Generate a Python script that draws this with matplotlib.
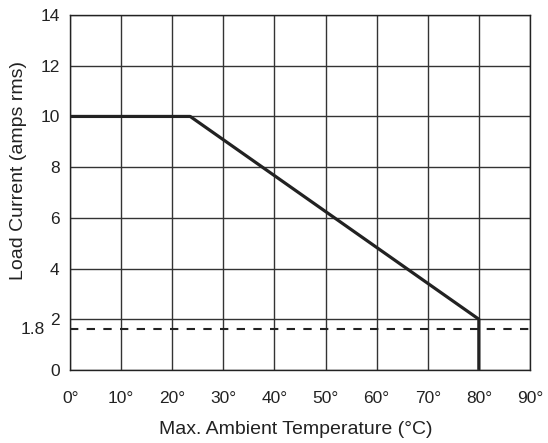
import matplotlib
matplotlib.use("Agg")
import matplotlib.pyplot as plt

# derating curve
temp = [0, 23.5, 80, 80]
current = [10, 10, 2, 0]
min_current = 1.6          # dashed line, labelled 1.8 on the original
min_label = "1.8"

x_ticks = [0, 10, 20, 30, 40, 50, 60, 70, 80, 90]
x_labels = [f"{t}°" for t in x_ticks]
y_ticks = [0, 2, 4, 6, 8, 10, 12, 14]

plt.rcParams['font.family'] = ['Liberation Sans', 'DejaVu Sans']

fig = plt.figure(figsize=(5.48, 4.43), dpi=100)
ax = fig.add_axes([0.128, 0.165, 0.839, 0.801])

ax.set_xlim(0, 90)
ax.set_ylim(0, 14)
ax.set_xticks(x_ticks)
ax.set_xticklabels(x_labels)
ax.set_yticks(y_ticks)
ax.tick_params(length=0, labelsize=12.5, colors='#222222')
ax.tick_params(axis='x', pad=15)
ax.tick_params(axis='y', pad=7.5)
ax.grid(True, color='#333333', linewidth=1.0)
ax.set_axisbelow(True)
for s in ax.spines.values():
    s.set_color('#222222')
    s.set_linewidth(1.0)

ax.axhline(min_current, color='#222222', linewidth=1.5, linestyle=(0, (4, 4)))
ax.plot(temp, current, color='#222222', linewidth=2.3, solid_capstyle='butt')

# the extra "1.8" label beside the "2"
ax.text(-0.055, min_current, min_label, transform=ax.get_yaxis_transform(),
        ha='right', va='center', fontsize=12.5, color='#222222')

ax.set_xlabel("Max. Ambient Temperature (°C)", fontsize=14, color='#222222')
ax.set_ylabel("Load Current (amps rms)", fontsize=14, color='#222222')
ax.xaxis.set_label_coords(0.49, -0.145)
ax.yaxis.set_label_coords(-0.093, 0.563)

fig.savefig("out.png", dpi=100)
